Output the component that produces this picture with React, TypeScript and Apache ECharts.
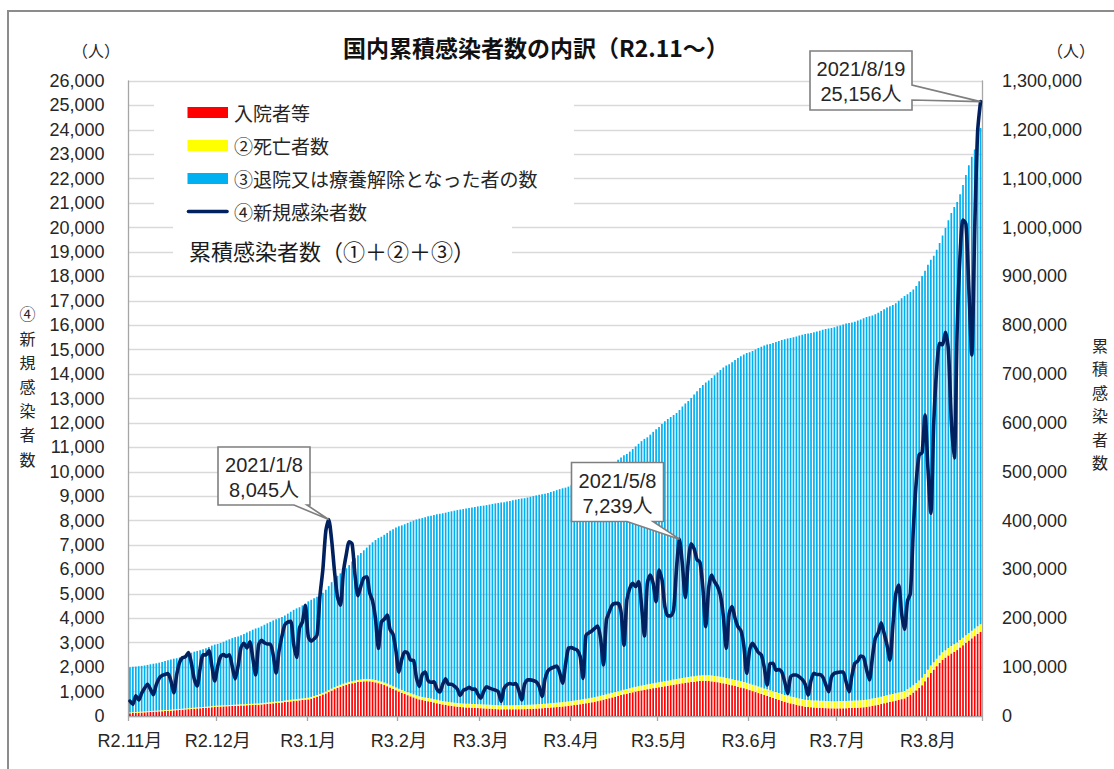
import React, { useEffect, useRef } from "react";
import * as echarts from "echarts";

// ---------- data ----------
const monthStarts = ["2020/11", "2020/12", "2021/1", "2021/2", "2021/3", "2021/4", "2021/5", "2021/6", "2021/7", "2021/8"];
const monthLabels = ["R2.11月", "R2.12月", "R3.1月", "R3.2月", "R3.3月", "R3.4月", "R3.5月", "R3.6月", "R3.7月", "R3.8月"];
const monthDays = [30, 31, 31, 28, 31, 30, 31, 30, 31, 19];

// ④ 新規感染者数 (daily, persons)
const newCases = [
  613, 478, 830, 660, 930, 1138, 1300, 1100, 870, 1280, 1547, 1660, 1704, 1735, 1438, 950, 1699, 2201, 2388, 2427, 2596, 2168, 1518, 1228, 1945, 2505, 2500, 2684, 2067, 1431,
  2026, 2430, 2513, 2440, 2506, 2025, 1518, 2050, 2811, 2973, 2789, 3041, 2389, 1681, 2900, 3100, 3000, 2950, 2950, 2497, 1760, 2663, 3270, 3740, 3843, 3881, 2947, 2395, 3600, 3852, 4520,
  3257, 3059, 3157, 3321, 4915, 6004, 7570, 8045, 7200, 5900, 4876, 4540, 5875, 6605, 7133, 7042, 5759, 4925, 5320, 5654, 5699, 5044, 4717, 3990, 2764, 3853, 3960, 4132, 3538, 3343, 2673,
  1792, 2324, 2631, 2576, 2289, 2277, 1575, 1214, 1700, 1800, 1450, 1380, 1400, 1100, 980, 1300, 1520, 1300, 1300, 1220, 1100, 840, 1050, 1100, 1180, 1100, 1100, 900,
  730, 1000, 1200, 1140, 1100, 1060, 1000, 600, 1130, 1280, 1330, 1300, 1330, 1050, 660, 1300, 1480, 1480, 1450, 1400, 1200, 800, 1520, 1850, 1950, 2000, 2050, 1780, 1340, 2100, 2770,
  2800, 2750, 2700, 2450, 1540, 3300, 3410, 3480, 3590, 3685, 3180, 2090, 3930, 4270, 4545, 4610, 4610, 4270, 2900, 4750, 5230, 5430, 5300, 5500, 4545, 3276, 5430, 5775, 5430, 4680,
  5980, 5600, 4480, 4100, 4100, 4340, 6050, 7239, 6200, 4850, 6300, 7050, 6850, 6400, 6300, 5250, 3660, 5250, 5770, 5500, 5300, 4950, 4100, 2770, 4200, 4480, 4000, 3660, 3500, 2900, 1750,
  2700, 2980, 2800, 2600, 2500, 2000, 1270, 2150, 2160, 1880, 1900, 1800, 1400, 930, 1600, 1680, 1680, 1600, 1500, 1300, 860, 1450, 1750, 1700, 1700, 1600, 1300, 1000, 1600, 1750,
  1780, 1800, 1800, 1400, 995, 1650, 2160, 2250, 2450, 2400, 1900, 1480, 2400, 3190, 3400, 3820, 3400, 2900, 2290, 3700, 5000, 5365, 4200, 3550, 4700, 5025, 7630, 9576, 10699, 10780, 12326,
  10170, 8300, 12017, 14207, 15263, 15200, 15713, 15000, 12100, 10565, 15800, 18890, 20310, 20151, 17500, 14780, 19900, 23917, 25156,
];

// 累積感染者数 (thousand persons)
const cumulativeK = [
  100.0, 100.6, 101.1, 101.9, 102.6, 103.5, 104.6, 105.9, 107.0, 107.9, 109.2, 110.7, 112.4, 114.1, 115.8, 117.3, 118.2, 119.9, 122.1, 124.5, 126.9, 129.5, 131.7, 133.2, 134.5, 136.4, 138.9, 141.4, 144.1, 146.2,
  147.6, 149.6, 152.0, 154.6, 157.0, 159.5, 161.5, 163.0, 165.1, 167.9, 170.9, 173.7, 176.7, 179.1, 180.8, 183.7, 186.8, 189.8, 192.7, 195.7, 198.2, 199.9, 202.6, 205.9, 209.6, 213.5, 217.3, 220.3, 222.7, 226.3, 230.1,
  234.7, 237.9, 241.0, 244.1, 247.4, 252.4, 258.4, 265.9, 274.0, 281.2, 287.1, 292.0, 296.5, 302.4, 309.0, 316.1, 323.1, 328.9, 333.8, 339.2, 344.8, 350.5, 355.6, 360.3, 364.3, 367.0, 370.9, 374.8, 379.0, 382.5, 385.8,
  388.5, 390.3, 392.6, 395.3, 397.8, 400.1, 402.4, 404.0, 405.2, 406.9, 408.7, 410.1, 411.5, 412.9, 414.0, 415.0, 416.3, 417.8, 419.1, 420.4, 421.6, 422.7, 423.6, 424.6, 425.7, 426.9, 428.0, 429.1,
  430.0, 430.7, 431.7, 432.9, 434.1, 435.2, 436.2, 437.2, 437.8, 439.0, 440.3, 441.6, 442.9, 444.2, 445.3, 445.9, 447.2, 448.7, 450.2, 451.6, 453.0, 454.2, 455.0, 456.6, 458.4, 460.4, 462.4, 464.4, 466.2, 467.5, 469.6,
  472.4, 475.2, 477.9, 480.6, 483.1, 484.6, 487.9, 491.3, 494.8, 498.4, 502.1, 505.3, 507.4, 511.3, 515.6, 520.1, 524.7, 529.3, 533.6, 536.5, 541.3, 546.5, 551.9, 557.2, 562.7, 567.3, 570.5, 576.0, 581.7, 587.2,
  591.9, 597.8, 603.4, 607.9, 612.0, 616.1, 620.5, 626.5, 633.7, 639.9, 644.8, 651.1, 658.1, 665.0, 671.4, 677.7, 682.9, 686.6, 691.9, 697.6, 703.1, 708.4, 713.4, 717.5, 720.2, 724.4, 728.9, 732.9, 736.6, 740.1, 743.0,
  744.7, 747.4, 750.4, 753.2, 755.8, 758.3, 760.3, 761.6, 763.7, 765.9, 767.8, 769.7, 771.5, 772.9, 773.8, 775.4, 777.1, 778.8, 780.4, 781.9, 783.2, 784.0, 785.5, 787.2, 788.9, 790.6, 792.2, 793.5, 794.5, 796.1,
  797.9, 799.7, 801.5, 803.3, 804.7, 805.6, 807.3, 809.5, 811.7, 814.2, 816.6, 818.5, 819.9, 822.3, 825.5, 828.9, 832.7, 836.1, 839.0, 841.3, 845.0, 850.0, 855.4, 859.6, 863.2, 867.9, 872.9, 880.5, 890.1, 900.8, 911.6,
  923.9, 934.1, 942.4, 954.4, 968.6, 983.8, 999.0, 1014.8, 1029.8, 1041.9, 1052.4, 1068.2, 1087.1, 1107.4, 1127.6, 1145.1, 1159.9, 1179.8, 1203.7,
];

// 入院者等 (thousand persons)
const hospitalizedK = [
  5.5, 5.9, 6.3, 6.7, 7.1, 7.5, 7.9, 8.3, 8.7, 9.1, 9.5, 9.9, 10.3, 10.6, 11.0,
  11.5, 12.0, 12.5, 13.0, 13.5, 14.0, 14.5, 15.0, 15.5, 16.0, 16.5, 17.0, 17.5, 18.0, 18.5, 19.0,
  19.3, 19.6, 19.9, 20.2, 20.5, 20.8, 21.1, 21.4, 21.7, 22.0, 22.3, 22.5, 22.8, 23.0,
  23.6, 24.2, 24.8, 25.4, 26.0, 26.6, 27.2, 27.8, 28.5, 29.2, 29.9, 30.6, 31.3, 32.0, 32.7, 33.4, 34.0,
  35.5, 37.3, 39.3, 41.5, 43.8, 46.3, 49.0, 52.0, 55.0,
  57.5, 59.8, 61.9, 63.8, 65.5, 67.0, 68.3, 69.4, 70.3, 71.0,
  71.2, 71.0, 70.0, 68.8, 67.2, 65.4, 63.4, 61.0, 58.4, 55.6, 52.8, 50.0,
  47.5, 45.0, 42.6, 40.3, 38.1, 36.0, 34.0,
  32.6, 31.3, 30.1, 29.0,
  27.6, 26.2, 24.9, 23.7, 22.5,
  21.6, 20.7, 19.9, 19.1, 18.5, 18.0,
  17.6, 17.2, 16.9, 16.6, 16.3, 16.0, 15.6, 15.3, 15.0,
  14.6, 14.2, 13.8,
  13.7, 13.6, 13.6, 13.6, 13.7, 13.8, 13.9, 14.0, 14.1, 14.3, 14.5,
  14.8, 15.2, 15.6, 16.0, 16.4, 16.8, 17.3, 17.8, 18.3, 18.8, 19.4, 20.0,
  20.8, 21.6, 22.4, 23.3, 24.2, 25.1, 26.1, 27.1, 28.1, 29.1, 30.5, 32.0,
  33.4, 34.9, 36.4, 38.0, 39.6, 41.2, 42.8, 44.3, 45.8, 47.2, 48.6, 50.0,
  51.2, 52.4, 53.6, 54.8, 55.9, 57.0, 58.0, 59.0, 60.0, 61.0, 62.0,
  63.0, 64.0, 65.0, 66.0, 67.0, 68.0,
  68.8, 69.6, 70.3, 71.0, 71.5, 72.0,
  72.0, 71.6, 71.0, 70.2, 69.2, 68.2, 67.0,
  65.7, 64.3, 62.8, 61.3, 59.8, 58.4, 57.0,
  55.0, 53.0, 51.0, 49.0, 47.0, 45.0, 43.0,
  41.0, 39.0, 37.0, 35.0, 33.0, 31.0, 29.0,
  27.4, 25.9, 24.4, 23.0, 21.6, 20.3, 19.0,
  18.4, 17.9, 17.4, 17.0, 16.7, 16.4, 16.1, 15.9, 15.7,
  15.6, 15.6, 15.7, 15.8, 16.0, 16.2, 16.4, 16.7, 17.0, 17.4, 17.8,
  18.6, 19.6, 20.7, 21.9, 23.1, 24.5, 26.0,
  27.4, 28.8, 30.2, 31.6, 33.0, 34.5, 36.0,
  39.5, 43.5, 48.0, 52.5, 57.5, 63.0,
  71.0, 79.5, 88.0,
  95.0, 102.0, 108.5, 115.0,
  119.5, 124.0, 128.0, 131.5, 135.0,
  140.0, 145.0, 150.0,
  154.5, 159.0, 163.5, 168.0, 172.0,
];

// ②死亡者数 (cumulative, thousand persons)
const deathsK = [
  1.75, 1.76, 1.77, 1.78, 1.8, 1.81, 1.82, 1.83, 1.84, 1.85, 1.86, 1.87, 1.88, 1.89, 1.9, 1.91, 1.92, 1.93, 1.94, 1.95, 1.97, 1.98, 2.0, 2.02, 2.03, 2.05, 2.06, 2.08, 2.09, 2.11,
  2.13, 2.17, 2.21, 2.25, 2.29, 2.33, 2.37, 2.41, 2.45, 2.49, 2.53, 2.57, 2.61, 2.65, 2.69, 2.73, 2.77, 2.81, 2.85, 2.89, 2.93, 2.97, 3.01, 3.05, 3.1, 3.15, 3.2, 3.25, 3.3, 3.35, 3.41,
  3.46, 3.51, 3.56, 3.61, 3.66, 3.72, 3.78, 3.84, 3.9, 3.96, 4.02, 4.08, 4.14, 4.2, 4.27, 4.34, 4.41, 4.48, 4.55, 4.62, 4.7, 4.78, 4.86, 4.94, 5.02, 5.1, 5.18, 5.27, 5.36, 5.45, 5.6,
  5.79, 5.87, 5.95, 6.03, 6.11, 6.19, 6.27, 6.35, 6.43, 6.51, 6.59, 6.67, 6.75, 6.83, 6.91, 6.99, 7.07, 7.15, 7.23, 7.31, 7.38, 7.45, 7.52, 7.58, 7.64, 7.7, 7.76, 7.83,
  7.9, 7.94, 7.98, 8.02, 8.06, 8.1, 8.14, 8.18, 8.22, 8.26, 8.3, 8.34, 8.38, 8.42, 8.46, 8.5, 8.54, 8.58, 8.62, 8.66, 8.7, 8.74, 8.78, 8.82, 8.86, 8.9, 8.94, 8.98, 9.01, 9.04, 9.07,
  9.1, 9.13, 9.16, 9.19, 9.22, 9.25, 9.28, 9.31, 9.34, 9.37, 9.4, 9.43, 9.46, 9.49, 9.52, 9.55, 9.58, 9.61, 9.64, 9.67, 9.7, 9.73, 9.76, 9.79, 9.82, 9.85, 9.88, 9.91, 9.95, 10.0,
  10.05, 10.1, 10.2, 10.3, 10.4, 10.5, 10.6, 10.7, 10.8, 10.9, 11.0, 11.1, 11.2, 11.3, 11.4, 11.5, 11.6, 11.7, 11.8, 11.9, 12.0, 12.1, 12.2, 12.3, 12.4, 12.5, 12.6, 12.7, 12.8, 12.85, 12.9,
  13.0, 13.1, 13.2, 13.3, 13.4, 13.5, 13.6, 13.7, 13.8, 13.9, 14.0, 14.05, 14.1, 14.15, 14.2, 14.25, 14.3, 14.35, 14.4, 14.45, 14.5, 14.52, 14.54, 14.56, 14.58, 14.6, 14.62, 14.64, 14.67, 14.7,
  14.75, 14.77, 14.79, 14.81, 14.83, 14.85, 14.87, 14.89, 14.9, 14.91, 14.92, 14.93, 14.94, 14.95, 14.96, 14.97, 14.98, 14.99, 15.0, 15.01, 15.02, 15.03, 15.04, 15.05, 15.06, 15.07, 15.08, 15.09, 15.1, 15.12, 15.15,
  15.17, 15.19, 15.21, 15.23, 15.25, 15.27, 15.29, 15.31, 15.33, 15.35, 15.37, 15.39, 15.41, 15.43, 15.46, 15.49, 15.52, 15.56, 15.6,
];

const annotationDates = ["2021/1/8", "2021/5/8", "2021/8/19"];

const leftTicks = { min: 0, max: 26000, interval: 1000 };
const rightTicks = { min: 0, max: 1300000, interval: 100000 };

const leftAxisName = ["④", "新", "規", "感", "染", "者", "数"];
const rightAxisName = ["累", "積", "感", "染", "者", "数"];

// ---------- styling ----------
const FONT_LATIN = "'Liberation Sans', 'Noto Sans CJK JP', sans-serif";
const FONT_CJK = "'Noto Sans CJK JP', 'Liberation Sans', sans-serif";
const C_RED = "#FF0000";
const C_YELLOW = "#FFFF00";
const C_BLUE = "#00B0F0";
const C_NAVY = "#002060";
const C_AXIS = "#a6a6a6";
const C_GRID = "#d9d9d9";
const C_TEXT = "#262626";

export default function App() {
  const ref = useRef<HTMLDivElement>(null);

  useEffect(() => {
    document.body.style.margin = "0";
    const el = ref.current;
    if (!el) return;
    const chart = echarts.init(el, null, { renderer: "svg" });

    // categories (daily) and month labels
    const categories: string[] = [];
    const labelByIndex: Record<number, string> = {};
    monthStarts.forEach((ym, m) => {
      for (let d = 1; d <= monthDays[m]; d++) {
        if (d === 1) labelByIndex[categories.length] = monthLabels[m];
        categories.push(`${ym}/${d}`);
      }
    });
    const isMonthStart = (i: number) => labelByIndex[i] !== undefined;

    const hosp = categories.map((_, i) => Math.round((hospitalizedK[i] ?? 0) * 1000));
    const deaths = categories.map((_, i) => Math.round((deathsK[i] ?? 0) * 1000));
    const recovered = categories.map((_, i) =>
      Math.max(0, Math.round((cumulativeK[i] ?? 0) * 1000) - hosp[i] - deaths[i])
    );
    const line = categories.map((_, i) => newCases[i] ?? null);

    const fmt = (v: number) => Number(v).toLocaleString("en-US");
    const GAP = "42%";

    chart.setOption({
      animation: false,
      backgroundColor: "#ffffff",
      title: {
        text: "国内累積感染者数の内訳（R2.11～）",
        left: 343,
        top: 35,
        padding: 0,
        textStyle: { fontSize: 23, fontWeight: "bold", fontFamily: FONT_CJK, color: "#111" },
      },
      grid: { left: 128.5, right: 132, top: 81, bottom: 53, containLabel: false },
      xAxis: {
        type: "category",
        data: categories,
        boundaryGap: true,
        axisLine: { show: true, lineStyle: { color: C_AXIS, width: 1.3 } },
        axisTick: {
          show: true,
          interval: (i: number) => isMonthStart(i),
          length: 5,
          lineStyle: { color: C_AXIS, width: 1.3 },
        },
        axisLabel: {
          interval: (i: number) => isMonthStart(i),
          formatter: (_v: string, i: number) => labelByIndex[i] ?? "",
          fontSize: 18,
          fontFamily: FONT_LATIN,
          color: C_TEXT,
          margin: 16,
        },
        splitLine: { show: false },
      },
      yAxis: [
        {
          type: "value",
          position: "left",
          ...leftTicks,
          axisLine: { show: true, lineStyle: { color: C_AXIS, width: 1.3 } },
          axisTick: { show: false },
          axisLabel: { fontSize: 18, fontFamily: FONT_LATIN, color: C_TEXT, margin: 24, formatter: fmt },
          splitLine: { show: true, lineStyle: { color: C_GRID, width: 1.3 } },
        },
        {
          type: "value",
          position: "right",
          ...rightTicks,
          axisLine: { show: true, lineStyle: { color: C_AXIS, width: 1.3 } },
          axisTick: { show: false },
          axisLabel: { fontSize: 18, fontFamily: FONT_LATIN, color: C_TEXT, margin: 20, formatter: fmt },
          splitLine: { show: false },
        },
      ],
      series: [
        {
          name: "入院者等",
          type: "bar",
          stack: "cumulative",
          yAxisIndex: 1,
          data: hosp,
          barCategoryGap: GAP,
          itemStyle: { color: C_RED },
        },
        {
          name: "②死亡者数",
          type: "bar",
          stack: "cumulative",
          yAxisIndex: 1,
          data: deaths,
          barCategoryGap: GAP,
          itemStyle: { color: C_YELLOW },
        },
        {
          name: "③退院又は療養解除となった者の数",
          type: "bar",
          stack: "cumulative",
          yAxisIndex: 1,
          data: recovered,
          barCategoryGap: GAP,
          itemStyle: { color: C_BLUE },
        },
        {
          name: "④新規感染者数",
          type: "line",
          yAxisIndex: 0,
          data: line,
          smooth: 0.25,
          symbol: "none",
          z: 5,
          lineStyle: { color: C_NAVY, width: 3.6, cap: "round", join: "round" },
        },
      ],
    });

    // ---------- decorations ----------
    const txt = (text: string, x: number, y: number, size: number, opts: any = {}) => ({
      type: "text",
      x,
      y,
      z: opts.z ?? 50,
      style: {
        text,
        fill: opts.fill ?? C_TEXT,
        font: `${opts.weight ?? "normal"} ${size}px ${opts.family ?? FONT_CJK}`,
        textAlign: opts.align ?? "left",
        align: opts.align ?? "left",
        textVerticalAlign: opts.valign ?? "middle",
        verticalAlign: opts.valign ?? "middle",
        lineHeight: opts.lineHeight,
      },
    });

    const elements: any[] = [];
    // outer frame
    elements.push({
      type: "rect",
      z: 60,
      shape: { x: 8, y: 11, width: 1200, height: 1000 },
      style: { fill: "none", stroke: "#8c8c8c", lineWidth: 2 },
    });
    // unit labels
    elements.push(txt("（人）", 96, 50, 16, { align: "center" }));
    elements.push(txt("（人）", 1071, 50, 16, { align: "center" }));
    // vertical axis names, one character per row
    leftAxisName.forEach((ch, k) => {
      elements.push(txt(ch, 27.5, 313.3 + k * 24.2, 16, { align: "center", lineHeight: 18 }));
    });
    rightAxisName.forEach((ch, k) => {
      elements.push(txt(ch, 1100, 345 + k * 23.4, 16, { align: "center", lineHeight: 18 }));
    });

    // legend boxes (cover grid lines)
    elements.push({ type: "rect", z: 10, shape: { x: 154, y: 92, width: 420, height: 124 }, style: { fill: "#fff" } });
    elements.push({ type: "rect", z: 10, shape: { x: 173, y: 216, width: 339, height: 50 }, style: { fill: "#fff" } });
    const legendRows = [
      { name: "入院者等", color: C_RED, y: 112.5 },
      { name: "②死亡者数", color: C_YELLOW, y: 145.5 },
      { name: "③退院又は療養解除となった者の数", color: C_BLUE, y: 178.5 },
    ];
    legendRows.forEach((r) => {
      elements.push({
        type: "rect",
        z: 11,
        shape: { x: 187.5, y: r.y - 5.5, width: 40.5, height: 11 },
        style: { fill: r.color },
      });
      elements.push(txt(r.name, 234, r.y, 19, { z: 11 }));
    });
    elements.push({
      type: "line",
      z: 11,
      shape: { x1: 188.5, y1: 211.5, x2: 227, y2: 211.5 },
      style: { stroke: C_NAVY, lineWidth: 3.6, lineCap: "round" },
    });
    elements.push(txt("④新規感染者数", 234, 211.5, 19, { z: 11 }));
    elements.push(txt("累積感染者数（①＋②＋③）", 189, 250, 22, { z: 11, fill: "#1a1a1a" }));

    // callouts
    const boxes = [
      { x: 218, y: 447, w: 92, h: 58, tail: "bottom", b1: 294, b2: 307 },
      { x: 571.5, y: 462.5, w: 92, h: 59, tail: "bottom", b1: 627, b2: 653 },
      { x: 810, y: 51, w: 102, h: 59, tail: "right", b1: 85, b2: 100 },
    ];
    annotationDates.forEach((date, k) => {
      const idx = categories.indexOf(date);
      if (idx < 0) return;
      const val = newCases[idx];
      const tip = chart.convertToPixel({ xAxisIndex: 0, yAxisIndex: 0 }, [idx, val]) as number[];
      const b = boxes[k];
      let pts: number[][];
      if (b.tail === "bottom") {
        pts = [
          [b.x, b.y],
          [b.x + b.w, b.y],
          [b.x + b.w, b.y + b.h],
          [b.b2, b.y + b.h],
          [tip[0], tip[1]],
          [b.b1, b.y + b.h],
          [b.x, b.y + b.h],
        ];
      } else {
        pts = [
          [b.x, b.y],
          [b.x + b.w, b.y],
          [b.x + b.w, b.b1],
          [tip[0], tip[1]],
          [b.x + b.w, b.b2],
          [b.x + b.w, b.y + b.h],
          [b.x, b.y + b.h],
        ];
      }
      elements.push({
        type: "polygon",
        z: 70,
        shape: { points: pts },
        style: { fill: "#ffffff", stroke: "#7f7f7f", lineWidth: 1.6 },
      });
      elements.push(
        txt(`${date}\n${val.toLocaleString("en-US")}人`, b.x + b.w / 2, b.y + b.h / 2 + 1, 20, {
          z: 71,
          align: "center",
          family: FONT_LATIN,
          lineHeight: 25,
        })
      );
    });

    chart.setOption({ graphic: { elements } });

    return () => chart.dispose();
  }, []);

  return <div ref={ref} style={{ width: 1114, height: 769 }} />;
}
